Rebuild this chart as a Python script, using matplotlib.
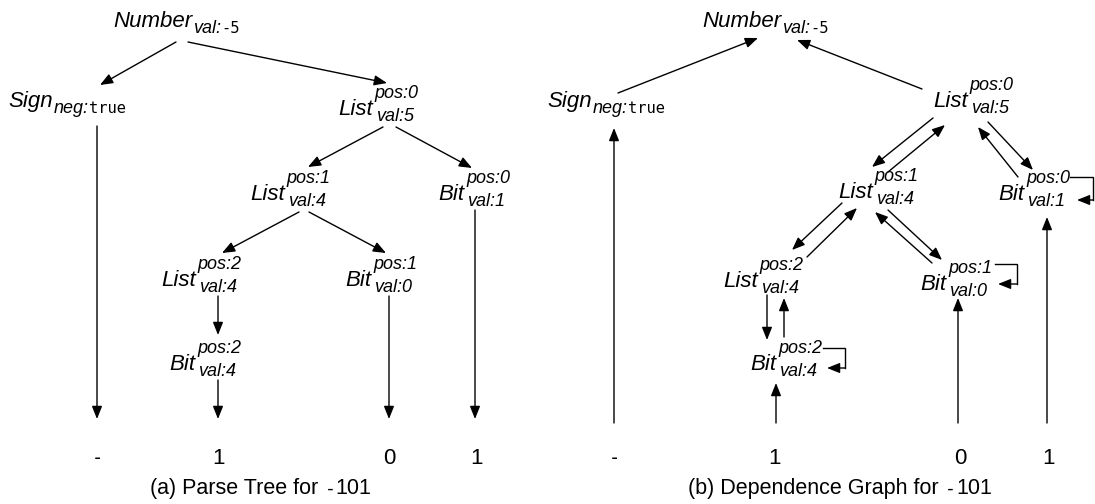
import matplotlib
matplotlib.use("Agg")
import matplotlib.pyplot as plt

W, H = 1095, 504
SANS = "Liberation Sans"
MONO = "DejaVu Sans Mono"
MAIN_SIZE = 16
SCRIPT_SIZE = 13
LEAF_SIZE = 16
CAPTION_SIZE = 15.5

# nodes: (word, superscript, subscript parts, left x of word, baseline y)
nodes_a = [
    ("Number", None, [("val:", "it"), ("-5", "tt")], 113, 27),
    ("Sign", None, [("neg:", "it"), ("true", "tt")], 8, 107),
    ("List", "pos:0", [("val:5", "it")], 338, 115),
    ("List", "pos:1", [("val:4", "it")], 250, 200),
    ("Bit", "pos:0", [("val:1", "it")], 438, 200),
    ("List", "pos:2", [("val:4", "it")], 161, 286),
    ("Bit", "pos:1", [("val:0", "it")], 345, 286),
    ("Bit", "pos:2", [("val:4", "it")], 169, 370),
]
nodes_b = [
    ("Number", None, [("val:", "it"), ("-5", "tt")], 702, 27),
    ("Sign", None, [("neg:", "it"), ("true", "tt")], 547, 107),
    ("List", "pos:0", [("val:5", "it")], 933, 107),
    ("List", "pos:1", [("val:4", "it")], 838, 198),
    ("Bit", "pos:0", [("val:1", "it")], 998, 200),
    ("List", "pos:2", [("val:4", "it")], 723, 287),
    ("Bit", "pos:1", [("val:0", "it")], 920, 290),
    ("Bit", "pos:2", [("val:4", "it")], 750, 370),
]

leaf_labels = ["-", "1", "0", "1"]
leaf_x_a = [97, 218, 389, 477]
leaf_x_b = [614, 775, 960, 1048]
leaf_y = 464

# edges as (start, tip)
edges_a = [
    ((176, 42), (100, 85)),
    ((188, 42), (387, 83)),
    ((383, 127), (308, 167)),
    ((396, 127), (472, 168)),
    ((299, 212), (222, 253)),
    ((309, 212), (386, 253)),
    ((218, 296), (218, 335)),
    ((218, 380), (218, 419)),
    ((97, 126), (97, 419)),
    ((389, 296), (389, 419)),
    ((475, 210), (475, 419)),
]
edges_b = [
    ((618, 93), (758, 38)),
    ((922, 89), (797, 40)),
    ((933, 118), (872, 167)),
    ((888, 172), (945, 125)),
    ((988, 122), (1033, 170)),
    ((1018, 177), (978, 127)),
    ((842, 203), (792, 250)),
    ((807, 257), (857, 208)),
    ((888, 210), (942, 260)),
    ((932, 263), (875, 212)),
    ((767, 295), (767, 340)),
    ((784, 337), (784, 298)),
    ((776, 423), (776, 383)),
    ((614, 423), (614, 128)),
    ((958, 423), (958, 298)),
    ((1047, 423), (1047, 217)),
]
# self loops: polyline, last segment carries the arrow head
loops_b = [
    [(1070, 177), (1093, 177), (1093, 200), (1077, 200)],
    [(995, 264), (1017, 264), (1017, 284), (998, 284)],
    [(823, 348), (845, 348), (845, 368), (827, 368)],
]

captions = [
    ([("(a) Parse Tree for ", "rm"), ("-", "tt"), ("101", "rm")], 261),
    ([("(b) Dependence Graph for ", "rm"), ("-", "tt"), ("101", "rm")], 840),
]
caption_y = 494

fig = plt.figure(figsize=(W / 100, H / 100), dpi=100)
ax = fig.add_axes([0, 0, 1, 1])
ax.set_xlim(0, W)
ax.set_ylim(H, 0)
ax.axis("off")
renderer = fig.canvas.get_renderer()


def style(kind, size):
    if kind == "tt":
        return dict(family=MONO, fontsize=size * 0.85)
    if kind == "it":
        return dict(family=SANS, style="italic", fontsize=size)
    return dict(family=SANS, fontsize=size)


def run(x, y, parts, size, center=False):
    texts = []
    cx = x
    for s, kind in parts:
        t = ax.text(cx, y, s, va="baseline", ha="left", **style(kind, size))
        cx += t.get_window_extent(renderer).width
        texts.append(t)
    if center:
        shift = (cx - x) / 2
        for t in texts:
            tx, ty = t.get_position()
            t.set_position((tx - shift, ty))
    return cx


def arrow(p0, p1):
    ax.annotate("", xy=p1, xytext=p0,
                arrowprops=dict(arrowstyle="-|>,head_length=0.55,head_width=0.22",
                                color="black", lw=1.0, shrinkA=0, shrinkB=0,
                                mutation_scale=14))


for word, sup, sub, x, y in nodes_a + nodes_b:
    t = ax.text(x, y, word, va="baseline", ha="left", **style("it", MAIN_SIZE))
    xe = x + t.get_window_extent(renderer).width
    if sup:
        ax.text(xe + 2, y - 17, sup, va="baseline", ha="left", **style("it", SCRIPT_SIZE))
        run(xe + 3, y + 6, sub, SCRIPT_SIZE)
    else:
        run(xe + 1, y + 6, sub, SCRIPT_SIZE)

for p0, p1 in edges_a + edges_b:
    arrow(p0, p1)

for pts in loops_b:
    xs = [p[0] for p in pts[:-1]]
    ys = [p[1] for p in pts[:-1]]
    ax.plot(xs, ys, color="black", lw=1.0, solid_joinstyle="miter")
    arrow(pts[-2], pts[-1])

for xs in (leaf_x_a, leaf_x_b):
    for lx, lab in zip(xs, leaf_labels):
        kind = "tt" if lab == "-" else "rm"
        ax.text(lx, leaf_y, lab, va="baseline", ha="center", **style(kind, LEAF_SIZE))

for parts, cx in captions:
    run(cx, caption_y, parts, CAPTION_SIZE, center=True)

fig.savefig("out.png", dpi=100)
